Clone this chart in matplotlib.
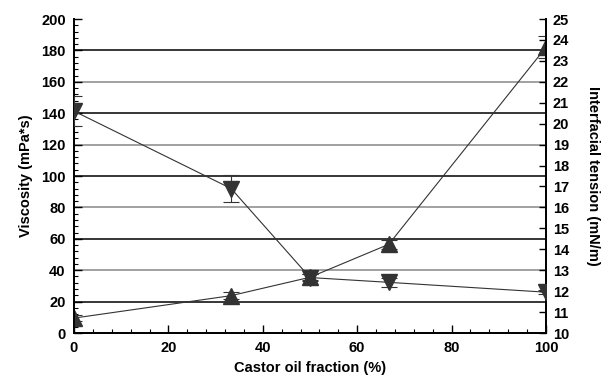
import matplotlib.pyplot as plt
import numpy as np
from matplotlib.ticker import MultipleLocator

plt.rcParams['font.family'] = ['Liberation Sans', 'DejaVu Sans']
plt.rcParams['font.weight'] = 'bold'

# castor oil fraction (%)
fraction = [0, 33.3, 50, 66.7, 100]
# viscosity (mPa*s), left axis
viscosity = [9.5, 23.8, 35.5, 56.5, 182]
visc_err = [2, 2, 2, 3, 7]
# interfacial tension (mN/m), right axis
tension = [20.6, 16.9, 12.65, 12.42, 11.95]
tens_err = [0.7, 0.65, 0.15, 0.2, 0.1]

col = '#333333'

fig = plt.figure(figsize=(6.09, 3.84), dpi=100)
ax1 = fig.add_axes([0.1215, 0.1328, 0.775, 0.8177])
ax2 = ax1.twinx()

# horizontal grid lines, alternating dark / grey
for i, g in enumerate(range(20, 200, 20)):
    ax1.axhline(g, color='black' if i % 2 == 0 else '#888888', lw=1.1, zorder=0)

ax1.errorbar(fraction, viscosity, yerr=visc_err, color=col, marker='^', ms=12,
             lw=0.8, capsize=6, elinewidth=0.8, capthick=0.8, zorder=3)
ax2.errorbar(fraction, tension, yerr=tens_err, color=col, marker='v', ms=12,
             lw=0.8, capsize=6, elinewidth=0.8, capthick=0.8, zorder=3)

ax1.set_xlim(0, 100)
ax1.set_ylim(0, 200)
ax2.set_ylim(10, 25)

ax1.xaxis.set_major_locator(MultipleLocator(20))
ax1.xaxis.set_minor_locator(MultipleLocator(4))
ax1.yaxis.set_major_locator(MultipleLocator(20))
ax1.yaxis.set_minor_locator(MultipleLocator(4))
ax2.yaxis.set_major_locator(MultipleLocator(1))

ax1.tick_params(axis='both', which='major', direction='in', length=6, width=1,
                labelsize=10.5, pad=6)
ax1.tick_params(axis='both', which='minor', direction='in', length=3, width=0.8)
ax1.tick_params(axis='x', top=False)
ax2.tick_params(axis='y', which='major', direction='in', length=5, width=1,
                labelsize=10.5, pad=5)

for a in (ax1, ax2):
    for s in a.spines.values():
        s.set_linewidth(1.3)
    for lab in a.get_xticklabels() + a.get_yticklabels():
        lab.set_fontweight('bold')
ax1.spines['top'].set_visible(False)
ax2.spines['top'].set_visible(False)

ax1.set_xlabel('Castor oil fraction (%)', fontsize=10.5, fontweight='bold', labelpad=4)
ax1.set_ylabel('Viscosity (mPa*s)', fontsize=10.5, fontweight='bold', labelpad=6)
ax2.set_ylabel('Interfacial tension (mN/m)', fontsize=10.5, fontweight='bold',
               rotation=270, labelpad=22)

fig.savefig('out.png', dpi=100)
